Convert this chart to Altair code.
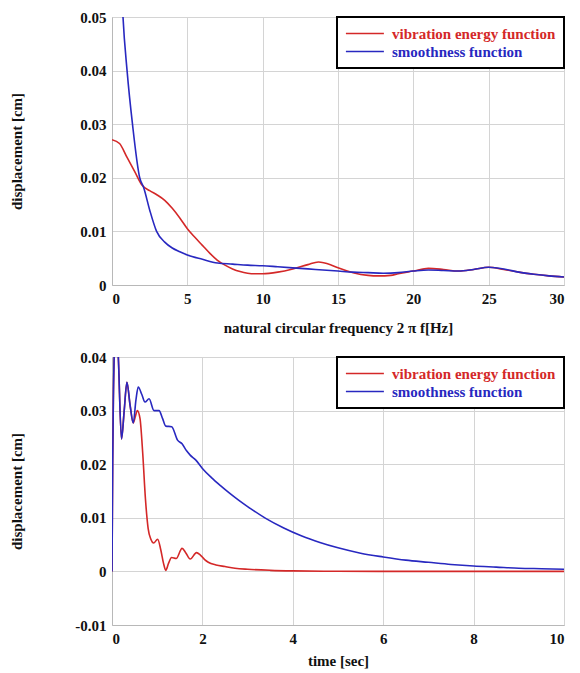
import altair as alt
import pandas as pd

SERIES = ["vibration energy function", "smoothness function"]
COLORS = ["#d42828", "#2828c0"]

# ---- top panel: displacement vs natural circular frequency ----
freq_red = [0, 0.5, 1, 1.5, 2, 2.5, 3, 3.5, 4, 4.5, 5, 5.5, 6, 6.5, 7, 7.5, 8, 8.5, 9, 9.5,
            10, 11, 12, 13, 13.7, 14.5, 15, 16, 17, 17.7, 18.5, 19, 20, 21, 22, 23, 24, 25,
            26, 27, 28, 29, 30]
disp_red = [0.0271, 0.0264, 0.0238, 0.0212, 0.0186, 0.0176, 0.0168, 0.0158, 0.0143, 0.0125,
            0.0105, 0.0089, 0.0074, 0.0059, 0.0046, 0.0037, 0.0030, 0.0025, 0.0022, 0.0021,
            0.0021, 0.0024, 0.0030, 0.0038, 0.0043, 0.0038, 0.0032, 0.0023, 0.0018, 0.0017,
            0.0018, 0.0021, 0.0026, 0.0031, 0.0029, 0.0026, 0.0029, 0.0033,
            0.0029, 0.0024, 0.0020, 0.0017, 0.0015]
freq_blue = [0.5, 0.73, 1.0, 1.36, 1.84, 2.1, 2.5, 2.96, 3.5, 4.0, 4.5, 5, 6, 7, 8, 9, 10, 11,
             12, 13, 14, 15, 16, 17, 18, 19, 20, 21, 22, 23, 24, 25, 26, 27, 28, 29, 30]
disp_blue = [0.066, 0.050, 0.040, 0.030, 0.020, 0.0182, 0.0140, 0.0100, 0.0080, 0.0069,
             0.0062, 0.0056, 0.0048, 0.0041, 0.0039, 0.0037, 0.0036, 0.0034, 0.0032, 0.0030,
             0.0028, 0.0026, 0.0024, 0.0023, 0.0022, 0.0023, 0.0026, 0.0028, 0.0027, 0.0026,
             0.0029, 0.0033, 0.0030, 0.0024, 0.0020, 0.0017, 0.0015]

# ---- bottom panel: displacement vs time ----
time_blue = [0, 0.015, 0.03, 0.06, 0.1, 0.14, 0.21, 0.27, 0.33, 0.40, 0.47, 0.53, 0.58, 0.66,
             0.73, 0.82, 0.93, 1.04, 1.12, 1.19, 1.32, 1.45, 1.55, 1.65, 1.73, 1.85, 2.0,
             2.2, 2.4, 2.6, 2.8, 3.0, 3.4, 3.8, 4.2, 4.6, 5.0, 5.5, 6.0, 6.5, 7.0, 7.5, 8.0,
             8.5, 9.0, 9.5, 10]
disp_blue_t = [0, 0.020, 0.032, 0.043, 0.047, 0.040, 0.0247, 0.030, 0.0353, 0.031, 0.0277,
               0.032, 0.0344, 0.0330, 0.0316, 0.0322, 0.0300, 0.0300, 0.0285, 0.0271, 0.0270,
               0.0245, 0.0238, 0.0225, 0.0217, 0.0208, 0.0192,
               0.0175, 0.0160, 0.0146, 0.0133, 0.0121, 0.0099, 0.0081, 0.0066, 0.0054,
               0.0044, 0.0034, 0.0027, 0.0021, 0.0017, 0.0013, 0.0010, 0.0008, 0.0006,
               0.0005, 0.0004]
time_red = [0, 0.015, 0.03, 0.06, 0.1, 0.14, 0.21, 0.27, 0.33, 0.40, 0.47, 0.52, 0.56, 0.62,
            0.68, 0.74, 0.80, 0.86, 0.92, 1.01, 1.08, 1.14, 1.19, 1.25, 1.32, 1.42, 1.55,
            1.63, 1.73, 1.87, 1.95, 2.05, 2.13, 2.3, 2.5, 2.72, 3.0, 3.5, 4.0, 5.0, 7.0, 10]
disp_red_t = [0, 0.020, 0.032, 0.043, 0.047, 0.040, 0.0247, 0.030, 0.0353, 0.031, 0.0277,
              0.0290, 0.0300, 0.0285, 0.0220, 0.0135, 0.0080, 0.0060, 0.0053, 0.0060, 0.0040,
              0.0015, 0.0002, 0.0015, 0.0026, 0.0024, 0.0043, 0.0035, 0.0023, 0.0035, 0.0031,
              0.0022, 0.0017, 0.0012, 0.0009, 0.0006, 0.0004, 0.0002, 0.0001, 0.00003, 0.0, 0.0]

FONT = "Liberation Serif"

top_df = pd.concat([
    pd.DataFrame({"x": freq_red, "y": disp_red, "series": SERIES[0]}),
    pd.DataFrame({"x": freq_blue, "y": disp_blue, "series": SERIES[1]}),
])
bot_df = pd.concat([
    pd.DataFrame({"x": time_red, "y": disp_red_t, "series": SERIES[0]}),
    pd.DataFrame({"x": time_blue, "y": disp_blue_t, "series": SERIES[1]}),
])

label_color = alt.ExprRef(
    "datum.label == 'vibration energy function' ? '%s' : '%s'" % (COLORS[0], COLORS[1])
)
ylabel_expr = "replace(format(datum.value, '.2~f'), '\u2212', '-')"


def panel(df, xdom, xticks, ydom, yticks, xtitle, ytitle, xtitle_y):
    return alt.Chart(df).mark_line(
        clip=True, strokeWidth=1.6, interpolate="monotone"
    ).encode(
        x=alt.X("x:Q", scale=alt.Scale(domain=xdom, nice=False),
                axis=alt.Axis(values=xticks, title=xtitle, titleY=xtitle_y,
                              titleBaseline="middle")),
        y=alt.Y("y:Q", scale=alt.Scale(domain=ydom, nice=False),
                axis=alt.Axis(values=yticks, title=ytitle, labelExpr=ylabel_expr,
                              titleX=-88)),
        color=alt.Color("series:N", scale=alt.Scale(domain=SERIES, range=COLORS),
                        legend=alt.Legend(title=None, labelColor=label_color)),
    ).properties(width=452, height=268)


top = panel(top_df, [0, 30], [0, 5, 10, 15, 20, 25, 30], [0, 0.05],
            [0, 0.01, 0.02, 0.03, 0.04, 0.05],
            "natural circular frequency 2 \u03c0 f[Hz]", "displacement  [cm]", 42)
bot = panel(bot_df, [0, 10], [0, 2, 4, 6, 8, 10], [-0.01, 0.04],
            [-0.01, 0, 0.01, 0.02, 0.03, 0.04],
            "time [sec]", "displacement [cm]", 35)

chart = alt.vconcat(top, bot, spacing=13).resolve_scale(color="independent").resolve_legend(
    color="independent"
).properties(
    padding={"left": 0, "top": 1, "right": 2, "bottom": 2}
).configure_axis(
    labelFont=FONT, labelFontWeight="bold", labelFontSize=15, labelColor="#111111",
    titleFont=FONT, titleFontWeight="bold", titleFontSize=15, titleColor="#111111",
    gridColor="#d4d4d4", gridWidth=1, domainColor="#b8b8b8", ticks=False, labelPadding=6,
).configure_view(stroke="#c8c8c8").configure_legend(
    orient="top-right", offset=0, strokeColor="black", strokeWidth=2, fillColor="white",
    padding=8, symbolType="M-1,0H4", symbolSize=231, symbolStrokeWidth=1.6,
    labelFont=FONT, labelFontWeight="bold", labelFontSize=15, labelOffset=30, rowPadding=1,
    labelLimit=300,
)

chart.save("out.html", embed_options={"renderer": "svg", "actions": False})
